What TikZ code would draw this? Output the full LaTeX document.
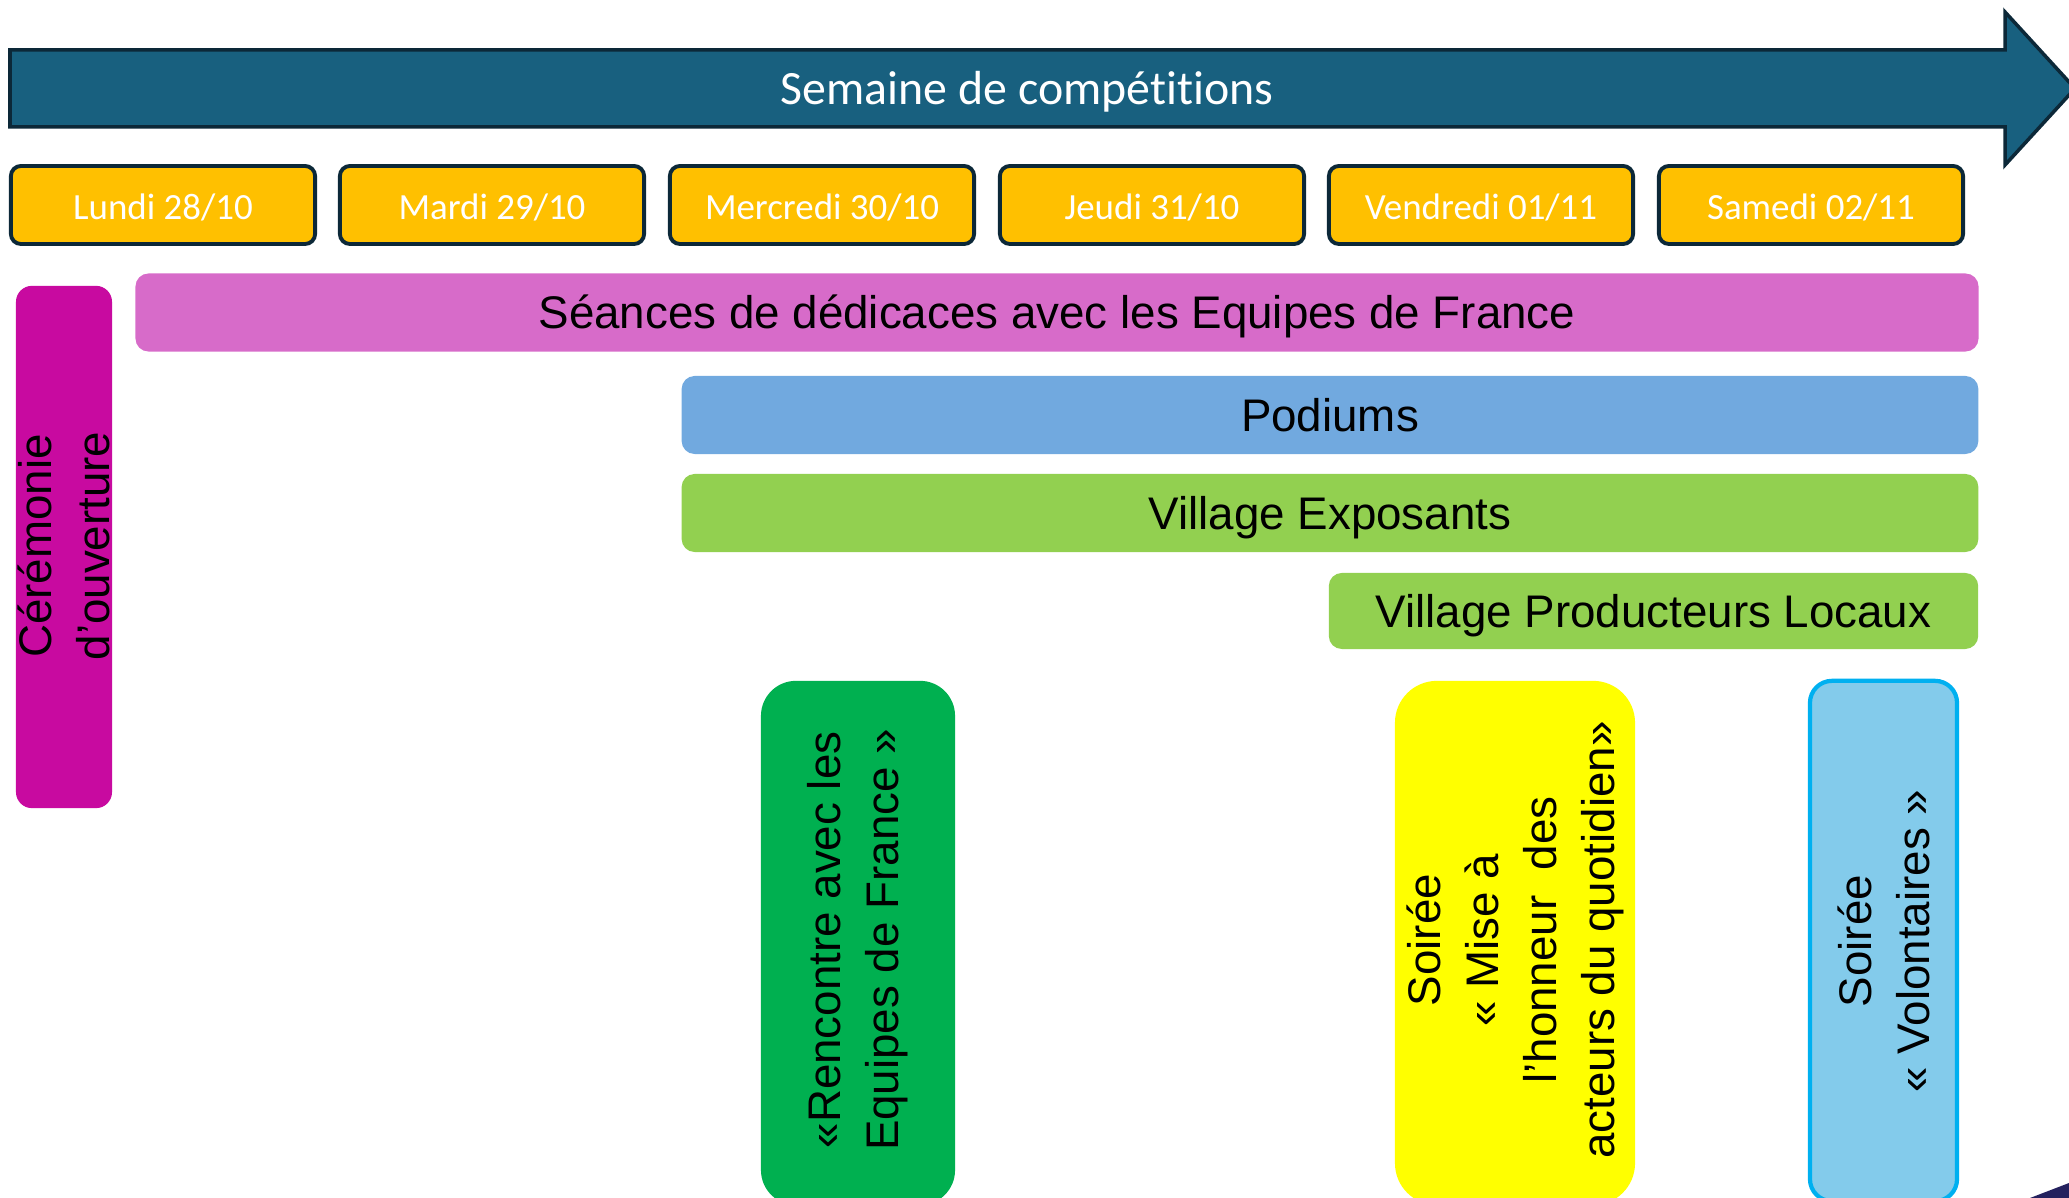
\documentclass[tikz,border=0pt]{standalone}
\usepackage{fontspec}
\setmainfont{Liberation Sans}
\newfontfamily\calibri[Ligatures=NoCommon]{Carlito}
\definecolor{arrowblue}{HTML}{18607F}
\definecolor{darkline}{HTML}{0C2838}
\definecolor{dayorange}{HTML}{FFC000}
\definecolor{signpink}{HTML}{D76BC9}
\definecolor{podblue}{HTML}{71A9DF}
\definecolor{villgreen}{HTML}{92D050}
\definecolor{cermagenta}{HTML}{C80AA0}
\definecolor{meetgreen}{HTML}{00B050}
\definecolor{nightyellow}{HTML}{FFFF00}
\definecolor{volblue}{HTML}{83CBEB}
\definecolor{volline}{HTML}{00B0F0}
\definecolor{cornernavy}{HTML}{24215E}
\begin{document}
\begin{tikzpicture}
[x=0.01cm, y=-0.01cm,
 daybox/.style={draw=darkline, line width=1.1pt, fill=dayorange, rounded corners=0.1cm, minimum width=3.04cm, minimum height=0.78cm, inner sep=0pt, text=white, text height=10.8pt, text depth=2.5pt, font=\calibri\fontsize{10.5}{12}\selectfont},
 bar/.style={rounded corners=0.13cm, minimum height=0.78cm, inner sep=0pt, text height=11.8pt, text depth=2.5pt, font=\fontsize{13}{16}\selectfont},
 column/.style={minimum height=5.24cm, inner sep=0pt},
 vtext/.style={rotate=90, align=center, inner sep=0pt, font=\fontsize{13}{16.5}\selectfont}]
\useasboundingbox (0,0) rectangle (2069,1198);
\clip (0,0) rectangle (2069,1198);
\draw[draw=darkline, line width=1pt, fill=arrowblue] (10,50) -- (2005,50) -- (2005,12) -- (2075,88.5) -- (2005,165) -- (2005,127) -- (10,127) -- cycle;
\node[text=white, inner sep=0pt, text height=11.8pt, text depth=2.5pt, font=\calibri\fontsize{13.6}{16}\selectfont] (week) at (1027,88.5) {Semaine de compétitions};
\node[daybox] (lundi) at (163,205) {Lundi 28/10};
\node[daybox] (mardi) at (492,205) {Mardi 29/10};
\node[daybox] (mercredi) at (822,205) {Mercredi 30/10};
\node[daybox] (jeudi) at (1152,205) {Jeudi 31/10};
\node[daybox] (vendredi) at (1481,205) {Vendredi 01/11};
\node[daybox] (samedi) at (1811,205) {Samedi 02/11};
\node[bar, fill=signpink, minimum width=18.42cm] (seances) at (1057,312.5) {Séances de dédicaces avec les Equipes de France};
\node[bar, fill=podblue, minimum width=12.96cm] (podiums) at (1330,415) {Podiums};
\node[bar, fill=villgreen, minimum width=12.96cm] (expo) at (1330,513) {Village Exposants};
\node[bar, fill=villgreen, minimum width=6.49cm, minimum height=0.76cm] (prod) at (1653.5,611) {Village Producteurs Locaux};
\node[fill=cermagenta, rounded corners=0.16cm, minimum width=0.96cm, minimum height=5.22cm, inner sep=0pt] (cer) at (64,547) {};
\node[vtext] (certext) at (64,546) {Cérémonie\\d’ouverture};
\node[column, fill=meetgreen, rounded corners=0.35cm, minimum width=1.94cm] (meet) at (858,943) {};
\node[vtext] (meettext) at (858,940) {«Rencontre avec les\\Equipes de France »};
\node[column, fill=nightyellow, rounded corners=0.42cm, minimum width=2.4cm] (honour) at (1515,943) {};
\node[vtext] (honourtext) at (1515,940) {Soirée\\« Mise à\\l’honneur\ \ des\\acteurs du quotidien»};
\node[column, draw=volline, line width=1.2pt, fill=volblue, rounded corners=0.22cm, minimum width=1.47cm, minimum height=5.2cm] (vol) at (1883.5,941) {};
\node[vtext] (voltext) at (vol.center) {Soirée\\« Volontaires »};
\fill[cornernavy] (2030,1198) -- (2069,1183) -- (2069,1198) -- cycle;
\end{tikzpicture}
\end{document}
